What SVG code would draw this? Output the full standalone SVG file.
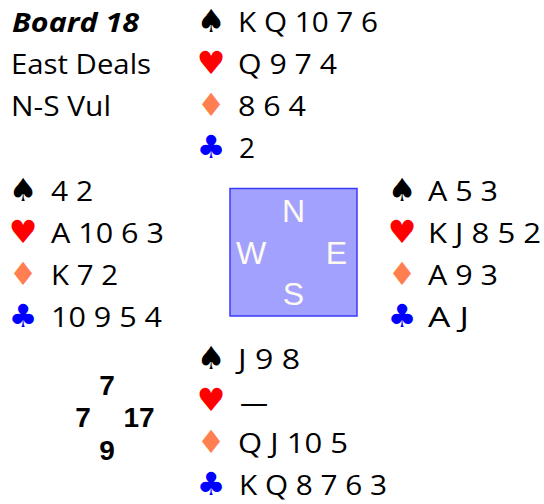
<svg xmlns="http://www.w3.org/2000/svg" width="544" height="504" viewBox="0 0 544 504">
<style>
.t{font-family:"Open Sans","Liberation Sans",sans-serif;font-size:27px;fill:#000}
.b{font-weight:bold;font-style:italic}
.s{font-family:"DejaVu Sans",sans-serif;font-size:32px;text-anchor:middle}
.sp{fill:#000}.he{fill:#ff0000}.di{fill:#ff7f50}.cl{fill:#0000ff}
.d{font-family:"Liberation Sans",Arial,sans-serif;font-size:32px;fill:#fffaf0;text-anchor:middle}
.h{font-family:"Liberation Sans",Arial,sans-serif;font-size:28px;font-weight:bold;fill:#000;text-anchor:middle}
</style>
<rect width="544" height="504" fill="#fff"/>
<g id="info">
<text class="t b" x="12" y="32" textLength="127" lengthAdjust="spacingAndGlyphs">Board 18</text>
<text class="t" x="11" y="74" textLength="140" lengthAdjust="spacingAndGlyphs">East Deals</text>
<text class="t" x="11" y="116" textLength="100" lengthAdjust="spacingAndGlyphs">N-S Vul</text>
</g>
<g id="north">
<text class="s sp" x="211" y="32">♠</text>
<text class="s he" x="211" y="74">♥</text>
<text class="s di" x="211" y="116">♦</text>
<text class="s cl" x="211" y="158">♣</text>
<text class="t" x="238" y="32" textLength="140" lengthAdjust="spacingAndGlyphs">K Q 10 7 6</text>
<text class="t" x="238" y="74" textLength="99" lengthAdjust="spacingAndGlyphs">Q 9 7 4</text>
<text class="t" x="238" y="116" textLength="68" lengthAdjust="spacingAndGlyphs">8 6 4</text>
<text class="t" x="239" y="158" textLength="16" lengthAdjust="spacingAndGlyphs">2</text>
</g>
<g id="west">
<text class="s sp" x="23" y="201">♠</text>
<text class="s he" x="23" y="243">♥</text>
<text class="s di" x="23" y="285">♦</text>
<text class="s cl" x="23" y="327">♣</text>
<text class="t" x="51" y="201" textLength="42" lengthAdjust="spacingAndGlyphs">4 2</text>
<text class="t" x="51" y="243" textLength="113" lengthAdjust="spacingAndGlyphs">A 10 6 3</text>
<text class="t" x="51" y="285" textLength="67" lengthAdjust="spacingAndGlyphs">K 7 2</text>
<text class="t" x="51" y="327" textLength="111" lengthAdjust="spacingAndGlyphs">10 9 5 4</text>
</g>
<g id="east">
<text class="s sp" x="402" y="201">♠</text>
<text class="s he" x="402" y="243">♥</text>
<text class="s di" x="402" y="285">♦</text>
<text class="s cl" x="402" y="327">♣</text>
<text class="t" x="428" y="201" textLength="70" lengthAdjust="spacingAndGlyphs">A 5 3</text>
<text class="t" x="428" y="243" textLength="113" lengthAdjust="spacingAndGlyphs">K J 8 5 2</text>
<text class="t" x="428" y="285" textLength="70" lengthAdjust="spacingAndGlyphs">A 9 3</text>
<text class="t" x="428" y="327" textLength="41" lengthAdjust="spacingAndGlyphs">A J</text>
</g>
<g id="south">
<text class="s sp" x="211" y="369">♠</text>
<text class="s he" x="211" y="411">♥</text>
<text class="s di" x="211" y="453">♦</text>
<text class="s cl" x="211" y="495">♣</text>
<text class="t" x="238" y="369" textLength="62" lengthAdjust="spacingAndGlyphs">J 9 8</text>
<text class="t" x="240" y="412" textLength="28" lengthAdjust="spacingAndGlyphs">—</text>
<text class="t" x="238" y="453" textLength="110" lengthAdjust="spacingAndGlyphs">Q J 10 5</text>
<text class="t" x="239" y="495" textLength="148" lengthAdjust="spacingAndGlyphs">K Q 8 7 6 3</text>
</g>
<g id="table">
<rect x="230" y="188.5" width="127" height="127.5" fill="#a2a2fe" stroke="#3a3aff" stroke-width="1.5"/>
<text class="d" x="293.5" y="222">N</text>
<text class="d" x="251" y="264">W</text>
<text class="d" x="336.5" y="264">E</text>
<text class="d" x="293.5" y="305">S</text>
</g>
<g id="hcp">
<text class="h" x="107" y="395">7</text>
<text class="h" x="83" y="427">7</text>
<text class="h" x="139" y="427">17</text>
<text class="h" x="107" y="460">9</text>
</g>
</svg>
